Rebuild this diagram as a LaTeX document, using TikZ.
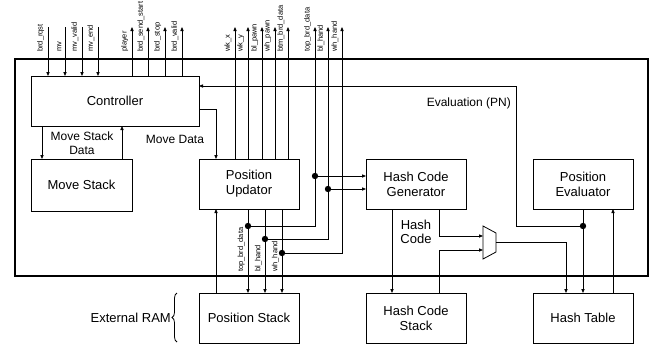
\documentclass[tikz,border=0pt]{standalone}
\usepackage{fontspec}
\setmainfont{Liberation Sans}
\usetikzlibrary{arrows.meta,decorations.pathreplacing}

\begin{document}
\begin{tikzpicture}[x=1pt,y=-1pt,
  wire/.style={line width=0.8pt},
  sig/.style={wire,-{Triangle[length=4pt,width=3.2pt]}},
  block/.style={draw,line width=0.9pt,inner sep=0pt,outer sep=0pt,
    minimum width=100pt,minimum height=50pt,align=center,
    font=\fontsize{13}{15}\selectfont},
  lab/.style={inner sep=0pt,align=center,font=\fontsize{12}{13.5}\selectfont},
  biglab/.style={inner sep=0pt,align=center,font=\fontsize{13}{14}\selectfont},
  siglab/.style={rotate=90,anchor=south west,inner sep=0pt,
    font=\fontsize{7.5}{8}\selectfont},
  jdot/.style={circle,fill,inner sep=0pt,minimum size=6.4pt}
]
\useasboundingbox (0,0) rectangle (659,349);

% chip outline
\draw[line width=1.5pt] (15,59) rectangle (648,276);

% functional blocks
\node[block,minimum width=168pt] (ctrl) at (115,101) {Controller};
\node[block,minimum width=101pt,minimum height=52pt] (mstack) at (81.5,185) {Move Stack};
\node[block] (updator) at (249,184) {Position\\Updator};
\node[block] (hcg) at (416,184) {Hash Code\\Generator};
\node[block] (peval) at (583,184) {Position\\Evaluator};
\node[block] (pstack) at (249,318) {Position Stack};
\node[block] (hcs) at (416,318) {Hash Code\\Stack};
\node[block] (htable) at (583,318) {Hash Table};

% external pins along the top
\foreach \x in {48,65,82,98,132,148,165,182,235,248,262,275,288,315,328,342}
  \coordinate (pin-\x) at (\x,27);

% inputs to the controller
\foreach \x/\t in {48/brd\_rqst,65/mv,82/mv\_valid,98/mv\_end}{
  \draw[sig] (pin-\x) -- (ctrl.north -| pin-\x);
  \node[siglab] at (\x-3.5,52) {\t};
}
% outputs of the controller
\foreach \x/\t in {132/player,148/brd\_send\_start,165/brd\_stop,182/brd\_valid}{
  \draw[sig] (ctrl.north -| pin-\x) -- (pin-\x);
  \node[siglab] at (\x-3.5,52) {\t};
}
% outputs of the position updator
\foreach \x/\t in {235/wk\_x,248/wk\_y,262/bl\_pawn,275/wh\_pawn,288/btm\_brd\_data}{
  \draw[sig] (updator.north -| pin-\x) -- (pin-\x);
  \node[siglab] at (\x-3.5,52) {\t};
}
\foreach \x/\t in {315/top\_brd\_data,328/bl\_hand,342/wh\_hand}
  \node[siglab] at (\x-3.5,52) {\t};

% controller <-> move stack
\draw[sig] (ctrl.south -| 42,0) -- (mstack.north -| 42,0);
\draw[sig] (mstack.north -| 122,0) -- (ctrl.south -| 122,0);
\node[lab] at (82,143) {Move Stack\\Data};

% controller -> position updator
\draw[sig] (ctrl.east |- 0,109) -| (updator.north -| 216,0);
\node[lab] at (175,139) {Move Data};

% position stack -> position updator
\draw[sig] (pstack.north -| 216,0) -- (updator.south -| 216,0);

% position updator -> position stack, with taps
\node[jdot] (j1) at (248,226) {};
\node[jdot] (j2) at (265,239) {};
\node[jdot] (j3) at (282,253) {};
\foreach \j/\x in {j1/315,j2/328,j3/342}{
  \draw[sig] (updator.south -| \j) -- (pstack.north -| \j);
  \draw[sig] (\j.center) -| (pin-\x);
}
\foreach \x/\t in {248/top\_brd\_data,265/bl\_hand,282/wh\_hand}
  \node[siglab] at (\x-3,272) {\t};

% taps into the hash code generator
\node[jdot] (j4) at (315,176) {};
\node[jdot] (j5) at (328,189) {};
\draw[sig] (j4.center) -- (hcg.west |- j4);
\draw[sig] (j5.center) -- (hcg.west |- j5);

% hash code path and multiplexer
\draw[sig] (hcg.south -| 392,0) -- (hcs.north -| 392,0);
\node[biglab] at (416,232) {Hash\\Code};
\coordinate (muxa) at (483,236);
\coordinate (muxb) at (483,250);
\coordinate (muxo) at (496,242);
\draw[wire] (483,226) -- (496,233) -- (496,252) -- (483,259) -- cycle;
\draw[sig] (hcg.south -| 439,0) |- (muxa);
\draw[sig] (hcs.north -| 439,0) |- (muxb);
\draw[sig] (muxo) -| (htable.north -| 566,0);

% evaluator <-> hash table, evaluation back to controller
\node[jdot] (jev) at (583,226) {};
\coordinate (evc) at (516,86);
\draw[sig] (peval.south -| jev) -- (htable.north -| jev);
\draw[sig] (htable.north -| 613,0) -- (peval.south -| 613,0);
\draw[sig] (jev.center) -| (evc) -- (ctrl.east |- evc);
\node[lab,anchor=east] at (511,103) {Evaluation (PN)};

% external memory bracket
\draw[wire,decorate,decoration={brace,amplitude=5pt}] (177,342) -- (177,293);
\node[biglab,anchor=east] (ram) at (171,318) {External RAM};
\end{tikzpicture}
\end{document}
